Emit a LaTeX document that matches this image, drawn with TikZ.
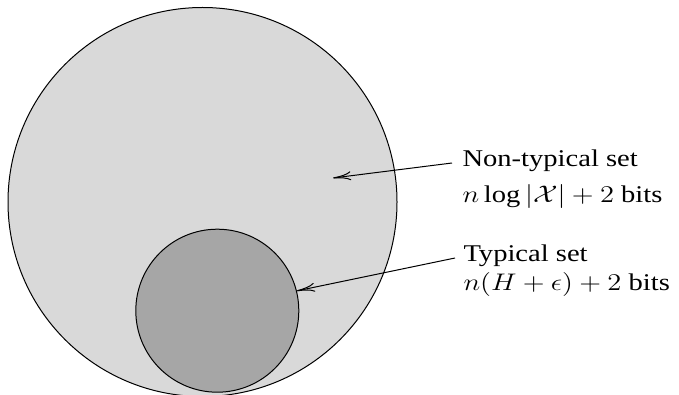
\documentclass[tikz,border=0pt]{standalone}
\usepackage{fontspec}
\setmainfont{Liberation Serif}
\usepackage{graphicx}
\usetikzlibrary{arrows.meta}

\newcommand{\wider}[1]{\scalebox{1.19}[1]{#1}}

\begin{document}
\begin{tikzpicture}[x=.5pt, y=-.5pt, line width=.5pt, font=\fontsize{12}{14.5}\selectfont]
\useasboundingbox (0,0) rectangle (679,395);

\node[circle, draw, fill=black!15, inner sep=0, minimum size=194.5pt] (all) at (202.5,202) {};
\node[circle, draw, fill=black!35, inner sep=0, minimum size=81.5pt] (typ) at (217.3,310.7) {};

% base west is on the last line of each label
\node[align=left, inner sep=0, anchor=base west] (ntlab) at (462,203) {\wider{Non-typical set}\\[3.5pt]\wider{$n\log|\mathcal{X}|+2$ bits}};
\node[align=left, inner sep=0, anchor=base west] (tlab) at (463,290) {\wider{Typical set}\\\wider{$n(H+\epsilon)+2$ bits}};

\coordinate (ntend) at (333,178);

\draw[-{Computer Modern Rightarrow[length=9pt,width=4.5pt]}] ([shift={(-5pt,20pt)}]ntlab.base west) -- (ntend);
\draw[-{Computer Modern Rightarrow[length=9pt,width=4.5pt]}] ([shift={(-4pt,16pt)}]tlab.base west) -- (typ.14);
\end{tikzpicture}
\end{document}
